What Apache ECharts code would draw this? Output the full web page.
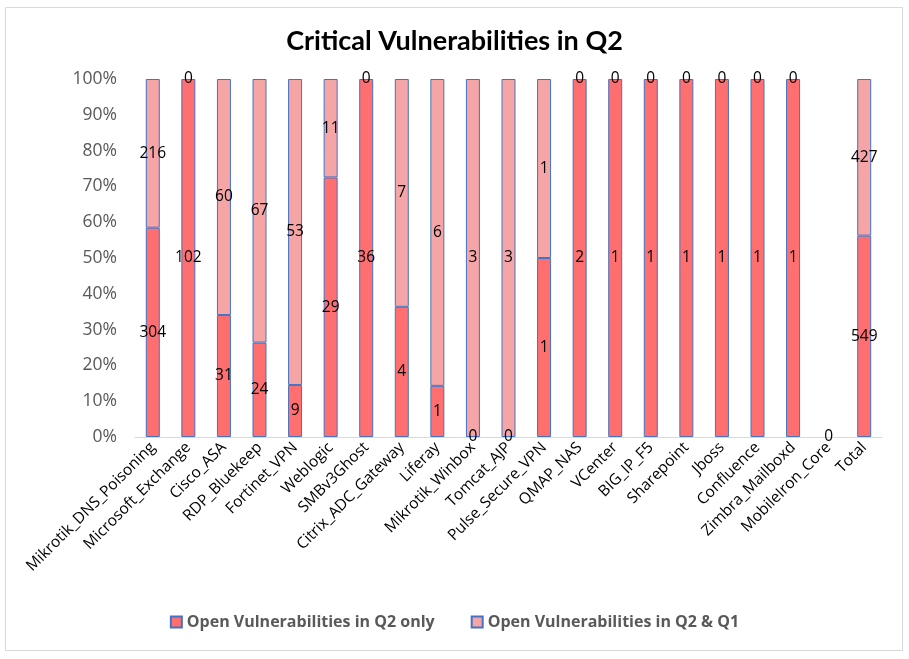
<!DOCTYPE html>
<html>
<head>
<meta charset="utf-8">
<script src="https://cdn.jsdelivr.net/npm/echarts@6/dist/echarts.min.js"></script>
<style>
html,body{margin:0;padding:0;background:#fff;}
#c{width:909px;height:659px;}
</style>
</head>
<body>
<div id="c"></div>
<script>
const categories = ["Mikrotik_DNS_Poisoning","Microsoft_Exchange","Cisco_ASA","RDP_Bluekeep","Fortinet_VPN","Weblogic","SMBv3Ghost","Citrix_ADC_Gateway","Liferay","Mikrotik_Winbox","Tomcat_AJP","Pulse_Secure_VPN","QMAP_NAS","VCenter","BIG_IP_F5","Sharepoint","Jboss","Confluence","Zimbra_Mailboxd","MobileIron_Core","Total"];
const q2Only = [304,102,31,24,9,29,36,4,1,0,0,1,2,1,1,1,1,1,1,0,549];
const q2Q1 = [216,0,60,67,53,11,0,7,6,3,3,1,0,0,0,0,0,0,0,0,427];
const seriesNames = ["Open Vulnerabilities in Q2 only","Open Vulnerabilities in Q2 & Q1"];
const yTicks = [0,10,20,30,40,50,60,70,80,90,100];

function pct(a, b, i){ const t = a[i] + b[i]; return t === 0 ? 0 : a[i] / t * 100; }
function mk(a, b, hideEmptyLabel){
  return categories.map((c,i)=>{
    const o = {value:pct(a,b,i), raw:a[i]};
    if (a[i] === 0) o.itemStyle = {borderWidth:0};
    if (hideEmptyLabel && a[i] === 0 && b[i] === 0) o.label = {show:false};
    return o;
  });
}
const d1 = mk(q2Only, q2Q1, false);
const d2 = mk(q2Q1, q2Only, true);

const font = '"Open Sans", "Noto Sans", sans-serif';
const chart = echarts.init(document.getElementById('c'));
const lbl = {show:true, position:'inside', color:'#000', fontSize:15.5, fontFamily:font,
  formatter: p => String(p.data.raw)};
chart.setOption({
  animation:false,
  backgroundColor:'#fff',
  title:{text:'Critical Vulnerabilities in Q2', left:'center', top:23,
    textStyle:{fontSize:27, fontWeight:'bold', color:'#000', fontFamily:'Lato, "Liberation Sans", sans-serif'}},
  graphic:[{type:'rect', shape:{x:5.5,y:7.5,width:897,height:643}, style:{fill:null, stroke:'#D9D9D9', lineWidth:1}, silent:true}],
  legend:{bottom:24, left:'center', itemWidth:11, itemHeight:11, itemGap:36, icon:'rect',
    textStyle:{fontSize:16, fontWeight:'bold', color:'#595959', fontFamily:font},
    data:seriesNames},
  grid:{left:135, right:27, top:79, bottom:222},
  xAxis:{type:'category', data:categories,
    axisLine:{lineStyle:{color:'#D9D9D9'}}, axisTick:{show:false},
    axisLabel:{interval:0, rotate:45, fontSize:15.5, color:'#000', fontFamily:font, margin:8}},
  yAxis:{type:'value', min:0, max:100, interval:10,
    axisLine:{show:false}, axisTick:{show:false}, splitLine:{show:false},
    axisLabel:{formatter: v => v + '%', fontSize:17.5, color:'#595959', fontFamily:font, margin:18}},
  series:[
    {name:seriesNames[0], type:'bar', stack:'s', barWidth:14, data:d1,
      itemStyle:{color:'#FF6F6F', borderColor:'#4472C4', borderWidth:1}, label:lbl},
    {name:seriesNames[1], type:'bar', stack:'s', barWidth:14, data:d2,
      itemStyle:{color:'#F5A5A5', borderColor:'#4472C4', borderWidth:1}, label:lbl}
  ]
});
</script>
</body>
</html>
